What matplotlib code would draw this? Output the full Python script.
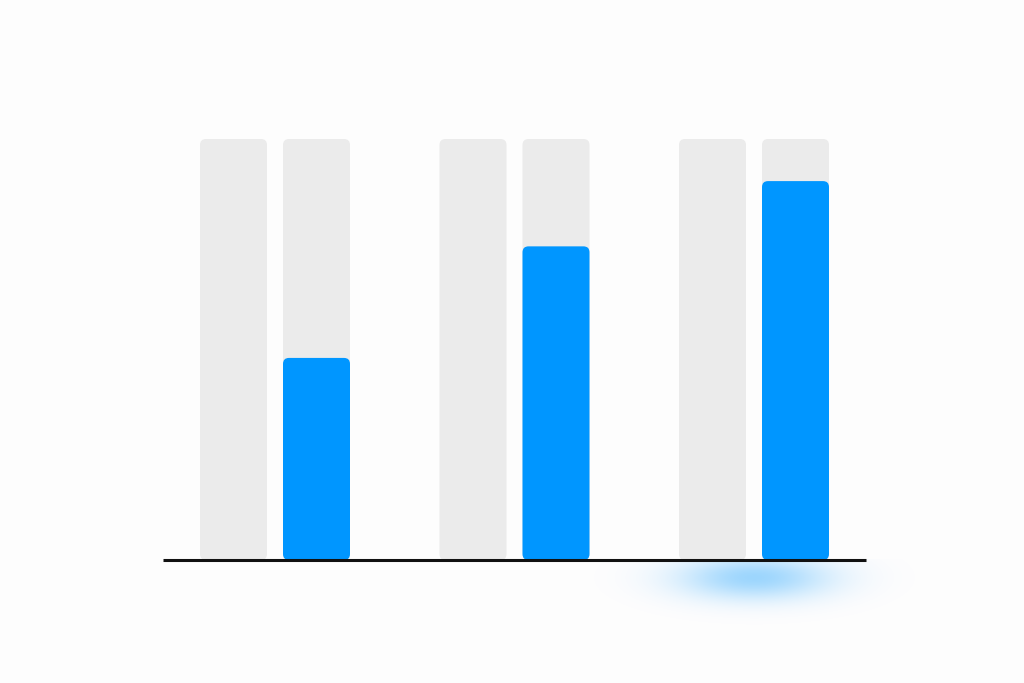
import numpy as np
import matplotlib.pyplot as plt
from matplotlib.patches import FancyBboxPatch

groups = [0, 1, 2]
track_left = [1.0, 1.0, 1.0]
track_right = [1.0, 1.0, 1.0]
values = [0.48, 0.745, 0.90]

gray = '#ebebeb'
blue = '#0096ff'
bg = '#fdfdfd'

# pixel scale of the layout (data unit -> px)
sx, sy = 239.5, 421.0
bw = 67 / sx
off = 41.5 / sx
asp = sx / sy

fig = plt.figure(figsize=(10.24, 6.83), dpi=100)
fig.patch.set_facecolor(bg)
ax = fig.add_axes([0, 0, 1, 1])
ax.set_facecolor(bg)
ax.set_xlim(-275 / sx, (1024 - 275) / sx)
ax.set_ylim(-(683 - 560) / sy, 560 / sy)
ax.axis('off')


def rbar(x, h, color, z):
    p = FancyBboxPatch((x - bw / 2, 0), bw, h,
                       boxstyle='round,pad=0,rounding_size=%f' % (6 / sx),
                       mutation_aspect=asp, fc=color, ec='none', zorder=z)
    ax.add_patch(p)


for g, a, b, v in zip(groups, track_left, track_right, values):
    rbar(g - off, a, gray, 1)
    rbar(g + off, b, gray, 1)
    rbar(g + off, v, blue, 2)

# soft glow under the last bar (px offsets relative to baseline)
px = np.linspace(-170, 170, 340)
py = np.linspace(-80, 0, 80)
X, Y = np.meshgrid(px, py)
glow = np.exp(-(X / 75.0) ** 2 - ((Y + 18) / 22.0) ** 2)
rgba = np.zeros(glow.shape + (4,))
rgba[..., 1] = 0.59
rgba[..., 2] = 1.0
rgba[..., 3] = glow * 0.38
cx = groups[-1]
ax.imshow(rgba, extent=[cx - 170 / sx, cx + 170 / sx, -80 / sy, 0],
          origin='lower', aspect='auto', zorder=0, interpolation='bilinear')

ax.plot([(163 - 275) / sx, (866 - 275) / sx], [0, 0], color='#111111',
        lw=2.2, solid_capstyle='butt', zorder=3)

fig.savefig('out.png', dpi=100, facecolor=bg)
